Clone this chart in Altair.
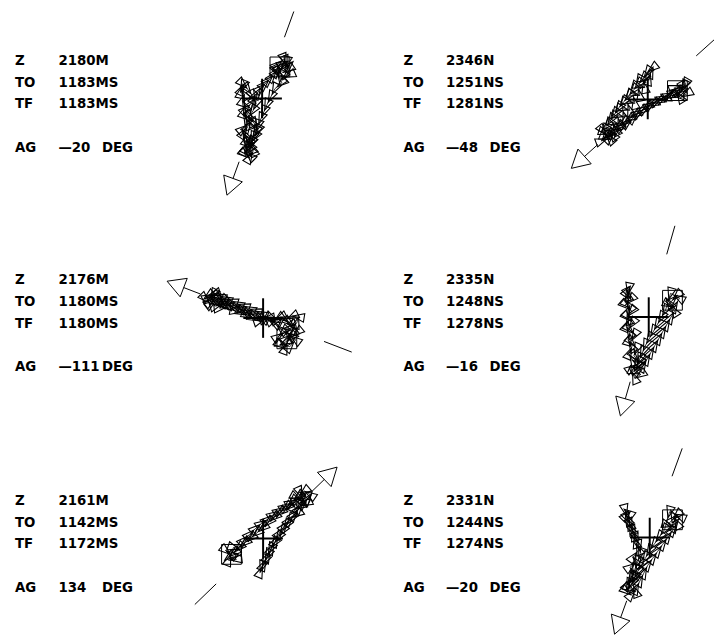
import math
import altair as alt
import pandas as pd

# ---------------- data ----------------
DEPTH = ["2180M", "2346N", "2176M", "2335N", "2161M", "2331N"]
T_ORIGIN = ["1183MS", "1251NS", "1180MS", "1248NS", "1142MS", "1244NS"]
T_FINAL = ["1183MS", "1281NS", "1180MS", "1278NS", "1172MS", "1274NS"]
AZIMUTH = [-20, -48, -111, -16, 134, -20]

# particle-motion samples (east, north) for each hodogram
H1_E = [18, 24, 27, 21, 15, 22, 28, 19, 14, 20, 13, 9, 5, 2, -1, -4, -6, -9, -11, -14,
        -16, -12, -18, -15, -10, -13, -17, -20, -14, -16, -19, -17, -20, -18, -21, -19, -22, -20,
        -15, -10, -6, -9, -13, -8, -4, -7, -11, -15, -18, -13, -9, -12, -16, -19, -15, -11,
        -14, -17, -12, -8, -5, -2, 2, 6, 10, 14, 17, 21, 25, 23, 27]
H1_N = [32, 38, 30, 26, 34, 40, 24, 20, 28, 16, 10, 2, -6, -13, -20, -27, -33, -39, -44, -49,
        -54, -58, -52, -46, -50, -42, -37, -31, -26, -20, -14, -8, -2, 4, 9, 13, 6, 15,
        10, 3, -5, -12, -18, -25, -32, -38, -44, -50, -56, -60, -53, -47, -41, -35, -29, -23,
        -17, -11, -6, 0, 5, 10, 14, 18, 22, 27, 31, 35, 37, 29, 33]

H2_E = [30, 36, 40, 33, 27, 38, 31, 24, 18, 12, 6, 0, -6, -12, -18, -24, -29, -34, -39, -43,
        -38, -44, -35, -40, -32, -36, -28, -31, -23, -26, -18, -21, -13, -15, -8, -10, -3, -5, 1, 3, 5,
        0, -4, -9, -14, -19, -24, -29, -33, -37, -41, -46, -42, -47, -39, -33, -27, -21, -15,
        -10, -4, 2, 8, 14, 20, 26, 32, 37, 34]
H2_N = [9, 13, 6, 2, 12, 16, 4, 4, 1, -1, -4, -7, -11, -15, -19, -23, -27, -31, -35, -38,
        -40, -33, -36, -29, -31, -23, -25, -16, -18, -9, -11, -2, -4, 6, 4, 14, 12, 21, 20, 27, 32,
        28, 22, 16, 10, 4, -2, -8, -14, -20, -26, -31, -36, -42, -39, -33, -28, -24, -19,
        -14, -10, -6, -2, 1, 4, 7, 10, 14, 8]

H3_E = [24, 30, 18, 27, 33, 21, 15, 28, 34, 36, 30, 24, 18, 12, 6, 0, -6, -12, -18, -24,
        -30, -36, -42, -47, -52, -56, -50, -54, -46, -41, -48, -38, -44, -34, -28, -22, -16,
        -10, -4, 2, 8, 14, 20, 26, 31, 35, 29, 23, 17, 22, 27, 19, 12, 5, -1, -7, -13, -19,
        -25, -31, -37, -43, -49, -55, -59, -53, -45, -39]
H3_N = [-21, -16, -26, -29, -22, -13, -19, -10, -5, 1, 2, -1, 1, -2, 0, -1, 2, 4, 6, 9,
        11, 13, 15, 17, 19, 21, 24, 16, 22, 18, 12, 15, 10, 11, 7, 6, 3,
        0, -3, -1, 1, -2, 0, -4, -8, -14, -19, -24, -27, -31, -18, -12, -6, -2, 4, 7, 9, 12,
        14, 17, 19, 22, 25, 23, 20, 14, 20, 13]

H4_E = [24, 29, 20, 26, 31, 22, 17, 13, 9, 5, 1, -3, -6, -9, -12, -15, -8, -14, -18, -11,
        -16, -20, -17, -21, -19, -23, -20, -22, -19, -23, -21, -22, -20, -21,
        -18, -24, -17, -22, -16, -20, -14, -18, -12, -15, -9, -13, -6, -2, 2, 6, 10, 14, 18,
        22, 26, 21]
H4_N = [17, 22, 13, 10, 19, 24, 7, 0, -7, -14, -21, -28, -35, -42, -49, -55, -58, -62, -52, -47,
        -44, -37, -30, -23, -16, -9, -2, 5, 11, 17, 22, 26, 29, 24,
        18, 12, 6, 0, -6, -12, -18, -25, -32, -39, -46, -53, -50, -43, -36, -29, -22, -15, -8,
        -1, 6, 14]

H5_E = [-32, -38, -27, -35, -30, -24, -20, -14, -8, -2, 4, 10, 16, 22, 28, 34, 39, 43, 37, 41,
        33, 44, 38, 31, 35, 28, 24, 20, 16, 12, 8, 5, 2, -1, -3,
        0, 4, 8, 12, 16, 21, 26, 31, 36, 40, 45, 48, 42, 36, 30, 24, 18, 12, 6, 0, -6, -12,
        -18, -24, -29, -34]
H5_N = [-16, -12, -21, -22, -9, -11, -2, 4, 10, 15, 19, 24, 28, 32, 36, 39, 41, 45, 47, 38,
        42, 36, 33, 29, 25, 20, 14, 8, 2, -4, -10, -16, -22, -28, -34,
        -27, -19, -11, -3, 5, 12, 18, 24, 30, 35, 40, 44, 48, 43, 38, 32, 27, 22, 17, 11, 6, 1,
        -4, -9, -14, -18]

H6_E = [23, 28, 18, 25, 31, 20, 15, 10, 5, 0, -4, -8, -12, -15, -18, -21, -14, -19, -23, -16,
        -20, -13, -17, -11, -14, -16, -18, -20, -22, -24, -21, -25, -23,
        -20, -17, -14, -11, -9, -12, -15, -18, -21, -24, -19, -14, -10, -6, -2, 3, 8, 13, 18,
        23, 28, 24]
H6_N = [18, 23, 13, 11, 21, 26, 8, 1, -6, -13, -20, -27, -34, -40, -46, -51, -55, -42, -48, -37,
        -30, -25, -20, -12, -5, 2, 8, 13, 18, 22, 25, 28, 20,
        14, 7, 0, -8, -16, -24, -32, -40, -47, -54, -58, -52, -44, -36, -28, -21, -14, -7, 0,
        7, 14, 22]

HODO = [(H1_E, H1_N), (H2_E, H2_N), (H3_E, H3_N), (H4_E, H4_N), (H5_E, H5_N), (H6_E, H6_N)]

# ---------------- layout (page pixels) ----------------
CENTERS = [(265, 96), (655, 97), (266, 318), (656, 317), (266, 541), (657, 540)]
LABEL_X = [15, 408]
VALUE_X = [59, 451]
UNIT_X = [103, 495]
ROW_BASE = [62, 284, 507]
LINE_DY = [0, 22, 44, 88]

FONT = "DejaVu Sans"

# ---------------- tables ----------------
texts = []
for p in range(6):
    r, c = divmod(p, 2)
    y0 = ROW_BASE[r]
    ag = AZIMUTH[p]
    ag_txt = ("\u2014" + str(abs(ag))) if ag < 0 else str(ag)
    items = [
        ("Z", LABEL_X[c], y0 + LINE_DY[0]), (DEPTH[p], VALUE_X[c], y0 + LINE_DY[0]),
        ("TO", LABEL_X[c], y0 + LINE_DY[1]), (T_ORIGIN[p], VALUE_X[c], y0 + LINE_DY[1]),
        ("TF", LABEL_X[c], y0 + LINE_DY[2]), (T_FINAL[p], VALUE_X[c], y0 + LINE_DY[2]),
        ("AG", LABEL_X[c], y0 + LINE_DY[3]), (ag_txt, VALUE_X[c], y0 + LINE_DY[3]),
        ("DEG", UNIT_X[c], y0 + LINE_DY[3]),
    ]
    for t, x, y in items:
        texts.append(dict(t=t, px=x, py=y))
text_df = pd.DataFrame(texts)

cross, segs, head, path, squares = [], [], [], [], []
ARM = 20
for p in range(6):
    cx, cy = CENTERS[p]
    cross.append(dict(px=cx - ARM, py=cy, px2=cx + ARM, py2=cy))
    cross.append(dict(px=cx, py=cy - ARM, px2=cx, py2=cy + ARM))
    a = math.radians(AZIMUTH[p])
    ux, uy = math.sin(a), math.cos(a)
    vx, vy = -uy, ux
    segs.append(dict(px=cx + 68 * ux, py=cy + 68 * uy, px2=cx + 86 * ux, py2=cy + 86 * uy))
    segs.append(dict(px=cx - 66 * ux, py=cy - 66 * uy, px2=cx - 96 * ux, py2=cy - 96 * uy))
    tip = (cx + 104 * ux, cy + 104 * uy)
    bc = (cx + 86 * ux, cy + 86 * uy)
    poly = [tip, (bc[0] + 10 * vx, bc[1] + 10 * vy), (bc[0] - 10 * vx, bc[1] - 10 * vy), tip]
    for k, (x, y) in enumerate(poly):
        head.append(dict(panel=p, k=k, px=x, py=y))
    E, N = HODO[p]
    n = len(E)
    for i in range(n):
        j0, j1 = (i, i + 1) if i < n - 1 else (i - 1, i)
        dE, dN = E[j1] - E[j0], N[j1] - N[j0]
        ang = math.degrees(math.atan2(dE, dN)) % 360
        path.append(dict(panel=p, k=i, px=cx + E[i], py=cy - N[i], ang=ang))
    squares.append(dict(px=cx + E[0], py=cy - N[0]))

cross_df = pd.DataFrame(cross)
seg_df = pd.DataFrame(segs)
head_df = pd.DataFrame(head)
path_df = pd.DataFrame(path)
sq_df = pd.DataFrame(squares)

xs = alt.Scale(domain=[8, 722], nice=False, zero=False)
ys = alt.Scale(domain=[8, 639], nice=False, zero=False, reverse=True)
X = alt.X("px:Q", scale=xs, axis=None)
Y = alt.Y("py:Q", scale=ys, axis=None)

text_layer = alt.Chart(text_df).mark_text(
    align="left", baseline="alphabetic", font=FONT, fontSize=13.5,
    fontWeight="bold", color="black"
).encode(x=X, y=Y, text="t:N")

cross_layer = alt.Chart(cross_df).mark_rule(color="black", strokeWidth=2, clip=True).encode(
    x=X, y=Y, x2="px2:Q", y2="py2:Q")

seg_layer = alt.Chart(seg_df).mark_rule(color="black", strokeWidth=1, clip=True).encode(
    x=X, y=Y, x2="px2:Q", y2="py2:Q")

head_layer = alt.Chart(head_df).mark_line(color="black", strokeWidth=1, clip=True).encode(
    x=X, y=Y, detail="panel:N", order="k:Q")

path_layer = alt.Chart(path_df).mark_line(color="black", strokeWidth=0.8, clip=True).encode(
    x=X, y=Y, detail="panel:N", order="k:Q")

tri_layer = alt.Chart(path_df).mark_point(
    shape="M0,-1L0.7,0.9L-0.7,0.9Z", filled=False, size=150,
    color="black", strokeWidth=1.1, opacity=1, clip=True
).encode(x=X, y=Y, angle=alt.Angle("ang:Q", scale=None))

sq_layer = alt.Chart(sq_df).mark_point(
    shape="square", filled=False, size=400, color="black", strokeWidth=1, opacity=1, clip=True
).encode(x=X, y=Y)

chart = alt.layer(
    text_layer, cross_layer, seg_layer, head_layer, path_layer, tri_layer, sq_layer
).properties(
    width=714, height=631, padding=0,
    autosize=alt.AutoSizeParams(type="none"),
    background="white",
).configure_view(stroke=None)

chart.save("out.html", embed_options={"renderer": "svg", "actions": False})
